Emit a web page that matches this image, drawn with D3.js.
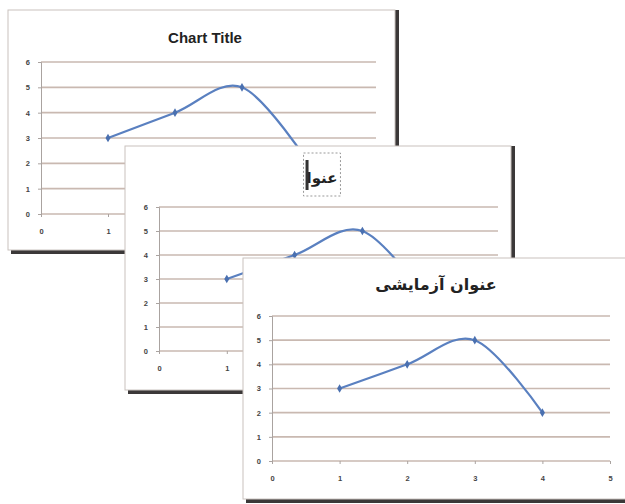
<!DOCTYPE html>
<html>
<head>
<meta charset="utf-8">
<script src="https://cdn.jsdelivr.net/npm/d3@7"></script>
<style>
  body { margin: 0; background: #fff; }
  svg { display: block; }
  .tick text { font-family: "Liberation Sans", Arial, sans-serif; font-size: 7.5px; font-weight: bold; fill: #444; }
</style>
</head>
<body>
<script>
// data
var xValues = [1, 2, 3, 4];
var yValues = [3, 4, 5, 2];
var xTicks = [0, 1, 2, 3, 4, 5];
var yTicks = [0, 1, 2, 3, 4, 5, 6];
var titles = ["Chart Title", "عنوا", "عنوان آزمایشی"];

var points = xValues.map(function(d, i) { return {x: d, y: yValues[i]}; });

var svg = d3.select("body").append("svg")
    .attr("width", 625)
    .attr("height", 504);

// three stacked chart windows, back to front
var panels = [
  {x: 8, y: 10, w: 387, h: 240, px: [41, 376], py: [214, 62], tx: 205, ty: 43, font: "'Liberation Sans', Arial, sans-serif", fs: 15},
  {x: 125, y: 146, w: 386, h: 244, px: [159, 498], py: [351, 207], tx: 322, ty: 183, font: "'DejaVu Sans', sans-serif", fs: 15, editing: true},
  {x: 243, y: 258, w: 390, h: 241, px: [272, 610], py: [461, 316], tx: 436, ty: 290, font: "'DejaVu Sans', sans-serif", fs: 16}
];

panels.forEach(function(p, i) {
    var g = svg.append("g");

    // shadow
    g.append("rect")
        .attr("x", p.x + 3).attr("y", p.y + p.h)
        .attr("width", p.w).attr("height", 4)
        .attr("fill", "#3b3838");
    g.append("rect")
        .attr("x", p.x + p.w).attr("y", p.y)
        .attr("width", 4).attr("height", p.h + 4)
        .attr("fill", "#3b3838");

    // window
    g.append("rect")
        .attr("x", p.x).attr("y", p.y)
        .attr("width", p.w).attr("height", p.h)
        .attr("fill", "#fff")
        .attr("stroke", "#c9c2be")
        .attr("stroke-width", 1);

    var x = d3.scaleLinear().domain([0, 5]).range(p.px);
    var y = d3.scaleLinear().domain([0, 6]).range(p.py);

    // gridlines
    g.selectAll(".grid")
        .data(yTicks)
        .enter().append("line")
        .attr("x1", p.px[0]).attr("x2", p.px[1])
        .attr("y1", function(d) { return y(d); })
        .attr("y2", function(d) { return y(d); })
        .attr("stroke", "#c9b9b1")
        .attr("stroke-width", 1.6);

    // axes
    var yAxis = g.append("g")
        .attr("transform", "translate(" + p.px[0] + ",0)")
        .call(d3.axisLeft(y).tickValues(yTicks).tickSize(3).tickPadding(8).tickFormat(d3.format("d")));
    yAxis.select(".domain").attr("stroke", "#aaa3a0");
    yAxis.selectAll(".tick line").attr("stroke", "#aaa3a0");

    var xAxis = g.append("g")
        .attr("transform", "translate(0," + p.py[0] + ")")
        .call(d3.axisBottom(x).tickValues(xTicks).tickSize(3).tickPadding(12).tickFormat(d3.format("d")));
    xAxis.select(".domain").remove();
    xAxis.selectAll(".tick line").attr("stroke", "#aaa3a0");

    // smoothed series line
    var line = d3.line()
        .x(function(d) { return x(d.x); })
        .y(function(d) { return y(d.y); })
        .curve(d3.curveCardinal.tension(0));

    g.append("path")
        .datum(points)
        .attr("d", line)
        .attr("fill", "none")
        .attr("stroke", "#5a80c0")
        .attr("stroke-width", 2.2);

    g.selectAll(".pt")
        .data(points)
        .enter().append("path")
        .attr("d", d3.symbol().type(d3.symbolDiamond).size(22))
        .attr("transform", function(d) { return "translate(" + x(d.x) + "," + y(d.y) + ")"; })
        .attr("fill", "#4a70b0");

    // title
    var t = g.append("text")
        .attr("x", p.tx).attr("y", p.ty)
        .attr("text-anchor", "middle")
        .attr("font-family", p.font)
        .attr("font-size", p.fs)
        .attr("font-weight", "bold")
        .attr("fill", "#222")
        .text(titles[i]);

    if (p.editing) {
        // title box being edited, with the caret
        var bb = t.node().getBBox();
        g.append("rect")
            .attr("x", bb.x - 3).attr("y", 153)
            .attr("width", bb.width + 6).attr("height", 43)
            .attr("fill", "none")
            .attr("stroke", "#999")
            .attr("stroke-dasharray", "2,2");
        g.append("rect")
            .attr("x", bb.x - 1).attr("y", 160)
            .attr("width", 3).attr("height", 30)
            .attr("fill", "#333");
    }
});
</script>
</body>
</html>
